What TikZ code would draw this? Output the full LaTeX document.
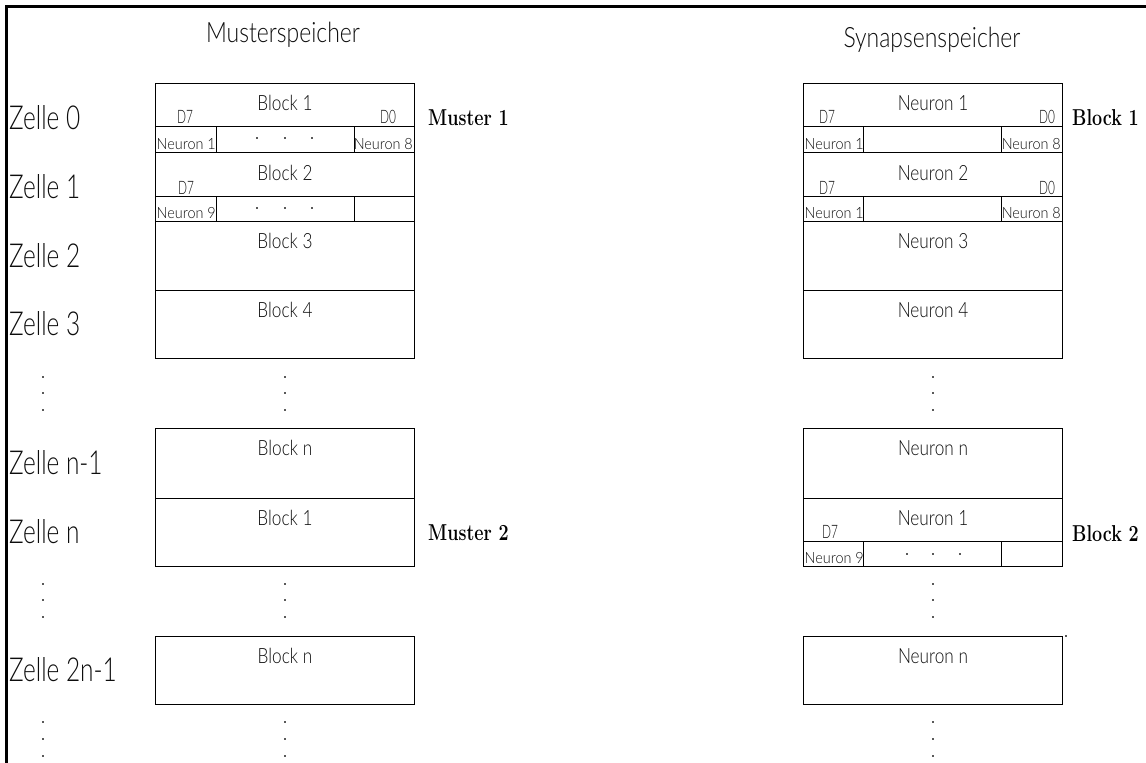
\documentclass[tikz,border=0pt]{standalone}
\usepackage{fontspec}
\setmainfont{Latin Modern Roman}
% narrow light sans faces for the drawing lettering
\newfontfamily\zellefont[FakeStretch=0.74]{Lato Light}
\newfontfamily\cadfont[FakeStretch=0.82]{Lato Light}
\newfontfamily\cadwide[FakeStretch=0.93]{Lato Light}
\newfontfamily\bitfont[FakeStretch=0.64]{Lato Light}
% serif face for the side labels
\newfontfamily\markfont[FakeStretch=0.78]{Latin Modern Roman}

\definecolor{dotgray}{gray}{0.35}
\definecolor{ink}{gray}{0.05}

\tikzset{
  frameline/.style={line width=3pt, line join=miter},
  boxline/.style={line width=1pt},
  zelle/.style={anchor=west, inner sep=0pt, text=ink, font=\zellefont\fontsize{33}{36}\selectfont},
  titletext/.style={anchor=base, inner sep=0pt, text=ink, font=\cadfont\fontsize{28}{30}\selectfont},
  headtext/.style={anchor=base, inner sep=0pt, text=ink, font=\cadfont\fontsize{21}{24}\selectfont},
  bittext/.style={anchor=base, inner sep=0pt, text=ink, font=\bitfont\fontsize{18.5}{20}\selectfont},
  cellleft/.style={anchor=base west, inner sep=0pt, text=ink, font=\cadwide\fontsize{15.5}{17}\selectfont},
  cellright/.style={anchor=base east, inner sep=0pt, text=ink, font=\cadwide\fontsize{15.5}{17}\selectfont},
  sidemark/.style={anchor=west, inner sep=0pt, font=\markfont\bfseries\fontsize{23}{27}\selectfont},
}
\newcommand\smalldot[2]{\fill[dotgray] (#1-0.8,#2-0.8) rectangle ++(1.6,1.6);}

\begin{document}
\begin{tikzpicture}[x=1pt, y=-1pt]
\useasboundingbox (0,0) rectangle (1146,763);

% sheet frame (top and left edges)
\draw[frameline] (6.5,763) -- (6.5,6.5) -- (1146,6.5);

% ---------- titles ----------
\node[titletext] (tmuster) at (283,42) {Musterspeicher};
\node[titletext] (tsynapse) at (932,47) {Synapsenspeicher};

% ---------- cell labels ----------
\node[zelle] (z0) at (9,117.5) {Zelle 0};
\node[zelle] (z1) at (9,186.5) {Zelle 1};
\node[zelle] (z2) at (9,255.5) {Zelle 2};
\node[zelle] (z3) at (9,324) {Zelle 3};
\node[zelle] (zn1) at (9,463) {Zelle n-1};
\node[zelle] (zn) at (9,532) {Zelle n};
\node[zelle] (z2n1) at (9,670) {Zelle 2n-1};

% ---------- pattern memory ----------
\draw[boxline] (155,83) rectangle (414,358);
\draw[boxline] (155,152) -- (414,152);
\draw[boxline] (155,221) -- (414,221);
\draw[boxline] (155,290) -- (414,290);
\draw[boxline] (155,126) -- (414,126);
\draw[boxline] (155,196) -- (414,196);
\draw[boxline] (216,126) -- (216,152) (354,126) -- (354,152);
\draw[boxline] (216,196) -- (216,221) (354,196) -- (354,221);
\draw[boxline] (155,428) rectangle (414,566);
\draw[boxline] (155,498) -- (414,498);
\draw[boxline] (155,636) rectangle (414,704);

\node[headtext] (mb1) at (285,110) {Block 1};
\node[headtext] (mb2) at (285,180) {Block 2};
\node[headtext] (mb3) at (285,248) {Block 3};
\node[headtext] (mb4) at (285,317) {Block 4};
\node[headtext] (mbn) at (285,455) {Block n};
\node[headtext] (mb1b) at (285,525) {Block 1};
\node[headtext] (mbnb) at (285,663) {Block n};

\node[bittext] (md7a) at (185,123) {D7};
\node[bittext] (md0a) at (388,123) {D0};
\node[bittext] (md7b) at (186,194) {D7};

\node[cellleft] (mn1) at (156.5,149) {Neuron 1};
\node[cellright] (mn8) at (413,149) {Neuron 8};
\node[cellleft] (mn9) at (156.5,218.5) {Neuron 9};

\foreach \x in {257,285,312} {\smalldot{\x}{138} \smalldot{\x}{208}}

\node[sidemark] (muster1) at (428,118) {Muster 1};
\node[sidemark] (muster2) at (428,533) {Muster 2};

% ---------- synapse memory ----------
\draw[boxline] (803,83) rectangle (1062,358);
\draw[boxline] (803,152) -- (1062,152);
\draw[boxline] (803,221) -- (1062,221);
\draw[boxline] (803,290) -- (1062,290);
\draw[boxline] (803,126) -- (1062,126);
\draw[boxline] (803,196) -- (1062,196);
\draw[boxline] (863,126) -- (863,152) (1001,126) -- (1001,152);
\draw[boxline] (863,196) -- (863,221) (1001,196) -- (1001,221);
\draw[boxline] (803,428) rectangle (1062,566);
\draw[boxline] (803,498) -- (1062,498);
\draw[boxline] (803,541) -- (1062,541);
\draw[boxline] (863,541) -- (863,566) (1001,541) -- (1001,566);
\draw[boxline] (803,636) rectangle (1062,704);

\node[headtext] (sn1) at (933,110) {Neuron 1};
\node[headtext] (sn2) at (933,180) {Neuron 2};
\node[headtext] (sn3) at (933,248) {Neuron 3};
\node[headtext] (sn4) at (933,317) {Neuron 4};
\node[headtext] (snn) at (933,455) {Neuron n};
\node[headtext] (sn1b) at (933,525) {Neuron 1};
\node[headtext] (snnb) at (933,663) {Neuron n};

\node[bittext] (sd7a) at (827,123) {D7};
\node[bittext] (sd0a) at (1047,123) {D0};
\node[bittext] (sd7b) at (827,194) {D7};
\node[bittext] (sd0b) at (1047,194) {D0};
\node[bittext] (sd7c) at (830,538) {D7};

\node[cellleft] (sc1a) at (804.5,149) {Neuron 1};
\node[cellright] (sc8a) at (1061,149) {Neuron 8};
\node[cellleft] (sc1b) at (804.5,218.5) {Neuron 1};
\node[cellright] (sc8b) at (1061,218.5) {Neuron 8};
\node[cellleft] (sc9) at (804.5,563.5) {Neuron 9};

\foreach \x in {907,933,960} {\smalldot{\x}{554}}
\smalldot{1066}{636}

\node[sidemark] (block1) at (1072,118) {Block 1};
\node[sidemark] (block2) at (1072,534) {Block 2};

% ---------- continuation dots ----------
\foreach \x in {43,285,933} {
  \foreach \y in {377,393,410,584,600,617,722,739,756} {\smalldot{\x}{\y}}
}
\end{tikzpicture}
\end{document}
